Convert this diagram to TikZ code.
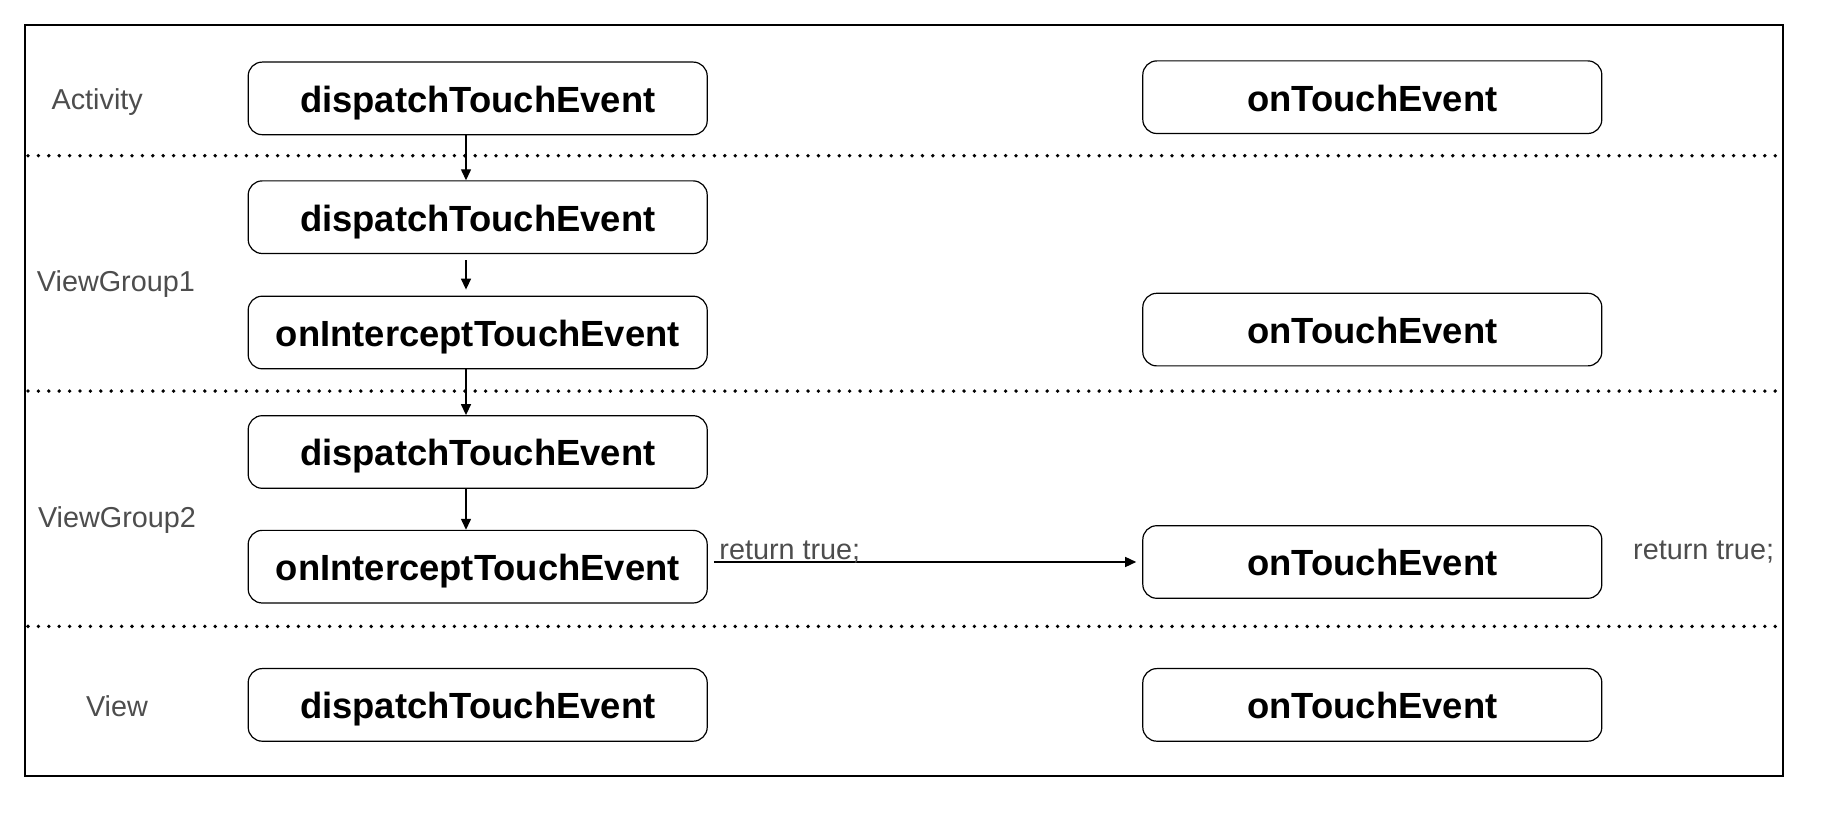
\documentclass[tikz,border=0pt]{standalone}
\usepackage{fontspec}
\setmainfont{Liberation Sans}
\usetikzlibrary{arrows.meta}
\definecolor{lbl}{HTML}{4D4D4D}
\tikzset{
  fn/.style={draw=black, line width=0.6pt, rounded corners=7pt, minimum width=229.5pt, minimum height=36.3pt, inner sep=0pt, text height=14pt, text depth=0pt, font=\fontsize{18.2}{20}\selectfont\bfseries},
  lane/.style={text=lbl, font=\fontsize{14.4}{16}\selectfont, inner sep=0pt},
  arr/.style={-{Triangle[length=5.5pt,width=5pt]}, line width=0.7pt},
  sep/.style={line width=1.9pt, dash pattern=on 0pt off 5.2pt, line cap=round}
}
\begin{document}
\begin{tikzpicture}[x=0.5pt,y=-0.5pt]
\useasboundingbox (0,0) rectangle (1836,838);
\draw[line width=1pt] (24.6,24.6) rectangle (1783.3,776.3);
\draw[sep] (28,155.7) -- (1781,155.7);
\draw[sep] (28,391.1) -- (1781,391.1);
\draw[sep] (28,626.4) -- (1781,626.4);
% lane labels
\node[lane] (la) at (97.2,102) {Activity};
\node[lane] (lv1) at (115.9,284.5) {ViewGroup1};
\node[lane] (lv2) at (117,520) {ViewGroup2};
\node[lane] (lv) at (117,706) {View};
% left column
\node[fn] (d0) at (477.7,98.4) {dispatchTouchEvent};
\node[fn] (d1) at (477.7,217.2) {dispatchTouchEvent};
\node[fn] (i1) at (477.7,332.5) {onInterceptTouchEvent};
\node[fn] (d2) at (477.7,452) {dispatchTouchEvent};
\node[fn] (i2) at (477.7,566.7) {onInterceptTouchEvent};
\node[fn] (d3) at (477.7,704.9) {dispatchTouchEvent};
% right column
\node[fn] (t0) at (1372.3,97.2) {onTouchEvent};
\node[fn] (t1) at (1372.3,329.6) {onTouchEvent};
\node[fn] (t2) at (1372.3,562) {onTouchEvent};
\node[fn] (t3) at (1372.3,704.9) {onTouchEvent};
% arrows
\coordinate (ax) at (466,0);
\draw[arr] (d0.south -| ax) -- (d1.north -| ax);
\draw[arr, shorten <=3pt, shorten >=3pt] (d1.south -| ax) -- (i1.north -| ax);
\draw[arr] (i1.south -| ax) -- (d2.north -| ax);
\draw[arr] (d2.south -| ax) -- (i2.north -| ax);
\draw[arr, shorten <=3pt, shorten >=3pt] (i2.east |- t2.west) -- (t2.west);
\node[lane, anchor=west] (r1) at (719,552.5) {return true;};
\node[lane] (r2) at (1703.6,552.5) {return true;};
\end{tikzpicture}
\end{document}
